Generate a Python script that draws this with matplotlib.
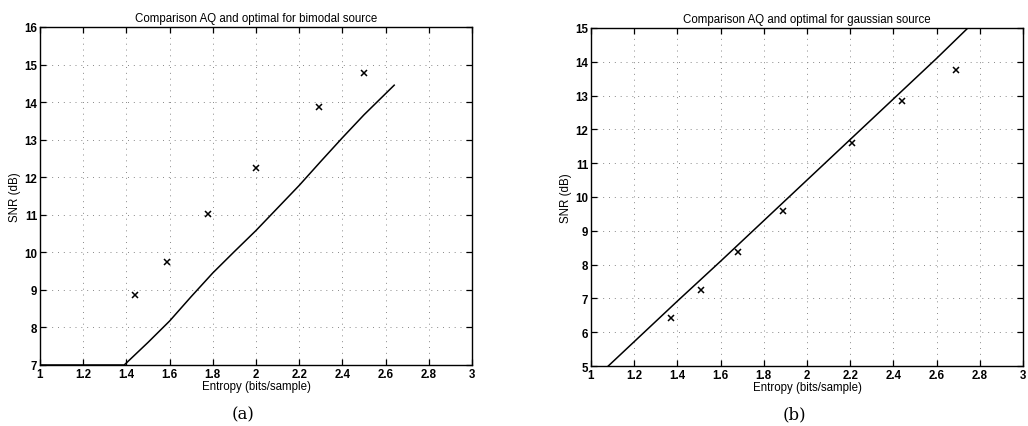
import matplotlib
matplotlib.use('Agg')
import matplotlib.pyplot as plt
import numpy as np

# (a) bimodal source
bi_aq_x = [1.44, 1.59, 1.78, 2.00, 2.29, 2.50]
bi_aq_y = [8.87, 9.75, 11.03, 12.25, 13.87, 14.77]
bi_opt_x = [1.00, 1.39, 1.50, 1.60, 1.70, 1.80, 1.90, 2.00, 2.10, 2.20, 2.30, 2.40, 2.50, 2.64]
bi_opt_y = [7.00, 7.00, 7.60, 8.17, 8.82, 9.45, 10.02, 10.58, 11.18, 11.78, 12.42, 13.05, 13.66, 14.45]

# (b) gaussian source
ga_aq_x = [1.37, 1.51, 1.68, 1.89, 2.21, 2.44, 2.69]
ga_aq_y = [6.42, 7.26, 8.38, 9.60, 11.60, 12.83, 13.77]
ga_opt_x = [1.08, 1.20, 1.40, 1.60, 1.80, 2.00, 2.20, 2.40, 2.60, 2.745]
ga_opt_y = [5.00, 5.72, 6.92, 8.10, 9.30, 10.50, 11.70, 12.90, 14.10, 15.00]

x_ticks = np.arange(1.0, 3.01, 0.2)
x_labels = ['1', '1.2', '1.4', '1.6', '1.8', '2', '2.2', '2.4', '2.6', '2.8', '3']

plt.rcParams['font.family'] = ['Liberation Sans', 'DejaVu Sans']
plt.rcParams['font.weight'] = 'bold'

fig = plt.figure(figsize=(10.28, 4.27), dpi=100)
ax1 = fig.add_axes([0.0389, 0.1429, 0.4202, 0.7916])
ax2 = fig.add_axes([0.5749, 0.1405, 0.4202, 0.7916])

panels = [
    (ax1, bi_opt_x, bi_opt_y, bi_aq_x, bi_aq_y, (7, 16), 'bimodal', '(a)', 243),
    (ax2, ga_opt_x, ga_opt_y, ga_aq_x, ga_aq_y, (5, 15), 'gaussian', '(b)', 794),
]

for ax, ox, oy, ax_, ay, ylim, name, tag, tag_x in panels:
    ax.plot(ox, oy, color='black', linewidth=1.1)
    ax.plot(ax_, ay, linestyle='none', marker='x', color='black', markersize=4.2, markeredgewidth=1.1)
    ax.set_xlim(1, 3)
    ax.set_ylim(*ylim)
    ax.set_xticks(x_ticks)
    ax.set_xticklabels(x_labels)
    ax.set_yticks(np.arange(ylim[0], ylim[1] + 1, 1))
    ax.grid(True, linestyle=(0, (1, 5)), color='#888888', linewidth=0.7)
    ax.tick_params(direction='in', top=True, right=True, labelsize=8.3, length=4, width=0.9, pad=2)
    for s in ax.spines.values():
        s.set_linewidth(1.0)
    ax.set_title('Comparison AQ and optimal for %s source' % name, fontsize=8.3, pad=4)
    ax.set_xlabel('Entropy (bits/sample)', fontsize=8.3, labelpad=0)
    ax.set_ylabel('SNR (dB)', fontsize=8.3, labelpad=2)
    fig.text(tag_x / 1028, 1 - 415 / 427, tag, ha='center', va='center',
             fontsize=12, family='DejaVu Serif', fontweight='normal')

fig.savefig('out.png', dpi=100)
